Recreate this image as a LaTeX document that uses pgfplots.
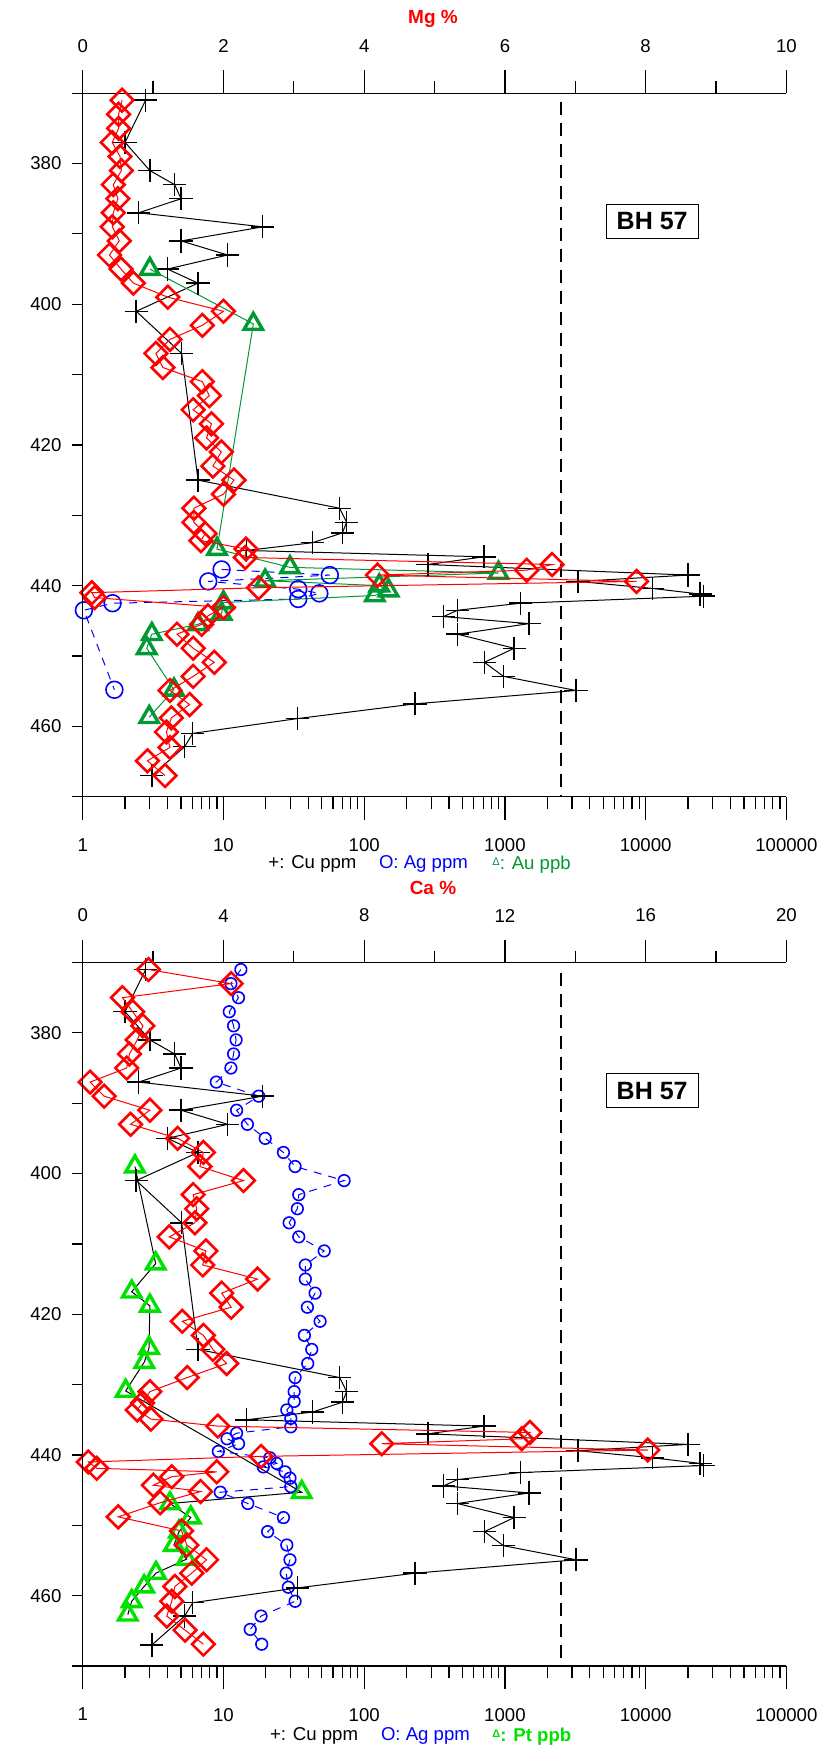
\documentclass[border=0pt]{standalone}
\usepackage{fontspec}
\setmainfont{Liberation Sans}
\usepackage{pgfplots}
\usepackage{pgfplotstable}
\pgfplotsset{compat=1.18}
\pgfplotsset{/pgf/number format/assume math mode=true}
\definecolor{auG}{RGB}{0,153,51}
\definecolor{ptG}{RGB}{0,225,0}

\pgfplotstableread{
v d
2.8 371
2.0 377
3.0 381
4.5 383
5.0 385
2.5 387
19 389
5.0 391
10.7 393
4.0 395
6.6 397
2.4 401
5.05 407
6.6 425
67 429
75 431
70 432.5
43 433.9
14.6 435
711 435.9
283 437
20000 438.5
3300 439.4
11200 440.4
24400 441.2
25800 441.5
1290 442.5
460 443.5
366 444.4
1487 445.4
460 446.9
1163 448.9
715 450.9
977 452.9
3200 454.9
230 456.8
33.5 458.9
6.05 461.0
5.3 462.9
3.1 467.0
}\cu

\pgfplotstableread{
v d
9.7 437.7
57 438.5
7.8 439.4
34 440.5
48 441.1
34 441.9
1.63 442.5
1.02 443.5
1.68 454.8
}\agtop

\pgfplotstableread{
v d
3.0 395
16.3 402.8
9.0 434.8
29.7 437.4
900 438.2
19.8 439.3
128 440.0
149 440.7
119 441.4
10 442.4
9.7 444.0
6.6 445.5
3.1 446.9
2.85 448.9
4.45 454.8
2.97 458.7
}\au

\pgfplotstableread{
v d
0.56 371
0.51 373
0.51 375
0.42 377
0.53 379
0.55 381
0.435 383
0.50 385
0.435 387
0.42 389
0.52 391
0.38 393
0.545 395
0.72 397
1.21 399
2.0 401
1.70 403
1.24 405
1.04 407
1.14 409
1.70 411
1.80 413
1.57 415
1.83 417
1.76 419
1.97 421
1.85 423
2.15 425
2.0 427
1.58 429
1.58 431
1.74 432.6
1.68 433.6
2.32 434.8
2.31 436.0
6.67 437.0
6.31 437.8
4.19 438.5
7.87 439.4
2.50 440.3
0.13 441.0
0.17 441.7
2.0 443.1
1.78 444.3
1.69 445.5
1.34 446.9
1.57 448.9
1.87 450.9
1.57 452.9
1.24 454.9
1.52 456.9
1.26 458.8
1.19 460.8
1.24 463.0
0.92 464.9
1.17 467.0
}\mg

\pgfplotstableread{
v d
13.3 371
11.3 373
12.8 375
11.0 377
11.8 379
12.3 381
11.8 383
11.3 385
8.9 387
17.8 389
12.4 391
14.8 393
19.8 395
26.7 397
32.3 399
72 401
34.3 403
33.5 405
29.3 407
34.3 409
52 411
38.2 413
38.2 415
44.8 417
39.5 419
48.6 421
37.6 423
42.4 425
39.7 427
32.3 429
31.8 431
31.8 432.4
28.2 433.6
30.1 434.8
30.1 436.0
12.4 436.9
10.6 437.7
12.8 438.4
9.2 439.5
21.4 440.4
23.9 441.2
19.2 441.7
27.4 442.4
29.7 443.3
30.1 444.5
9.5 445.3
14.9 446.9
26.7 448.9
20.6 450.9
28.2 452.8
29.7 454.9
27.9 456.8
28.9 458.8
32.3 460.8
18.5 462.9
15.5 464.8
18.7 466.9
}\agbot

\pgfplotstableread{
v d
2.35 399
3.3 412.8
2.23 416.8
3.0 418.8
2.96 424.8
2.74 426.8
2.02 430.9
36 445.3
4.17 446.9
5.86 448.9
4.83 450.9
4.45 452.8
5.48 454.8
3.32 456.8
2.73 458.7
2.23 460.8
2.09 462.7
}\pt

\pgfplotstableread{
v d
1.87 371
4.22 373
1.13 375
1.42 377
1.71 379
1.55 381
1.33 383
1.25 385
0.21 387
0.61 389
1.91 391
1.36 393
2.70 395
3.43 397
3.33 399
4.57 401
3.14 403
3.24 405
3.19 407
2.46 409
3.50 411
3.41 413
4.97 415
3.95 417
4.22 419
2.83 421
3.43 423
3.70 425
4.09 427
2.97 429
1.91 431
1.70 432.6
1.55 433.6
1.94 434.9
3.84 435.9
12.71 436.8
12.48 437.7
8.5 438.4
16.06 439.3
5.07 440.2
0.16 441.0
0.40 441.9
3.81 442.4
2.53 443.1
2.01 444.3
3.35 445.2
2.20 446.8
1.01 448.8
2.81 450.8
2.96 452.8
3.52 454.9
3.10 456.8
2.62 458.7
2.53 460.8
2.39 462.9
2.91 464.9
3.43 466.9
}\ca

\pgfplotsset{
  panel/.style={scale only axis, width=351.85pt, height=351.75pt,
    ymin=370, ymax=470, y dir=reverse, anchor=south west, clip=false,
    axis line style={-,line width=0.6pt}, tick style={black,line width=0.6pt},
    tick label style={font=\fontsize{9.3}{10}\selectfont}},
  logax/.style={panel,
    axis x line*=bottom, axis y line=none, ytick=\empty,
    xtick={1,10,100,1000,10000,100000},
    xticklabels={1,10,100,1000,10000,100000},
    minor xtick={2,3,4,5,6,7,8,9,20,30,40,50,60,70,80,90,200,300,400,500,600,700,800,900,2000,3000,4000,5000,6000,7000,8000,9000,20000,30000,40000,50000,60000,70000,80000,90000},
    major tick length=11.5pt, minor tick length=6pt, tick align=outside,
    xticklabel shift=6pt},
  topax/.style={panel, axis x line*=top, axis y line=none, ytick=\empty,
    major tick length=11.5pt, minor tick length=6pt, tick align=outside,
    xticklabel shift=5.2pt},
  yax/.style={panel, xmin=0, xmax=1, axis x line=none, axis y line*=left, xtick=\empty,
    ytick={380,400,420,440,460}, minor ytick={370,390,410,430,450,470},
    major tick length=5.5pt, minor tick length=5.5pt, tick align=outside,
    yticklabel shift=1.6pt},
  cuplot/.style={black, line width=0.5pt, mark=+, mark size=5.8pt, mark options={line width=0.75pt}},
  diam/.style={red, line width=0.5pt, mark=square, mark size=4.0pt, mark options={rotate=45, line width=1.3pt}},
  agplot/.style={blue, line width=0.5pt, dash pattern=on 4pt off 3.5pt, mark=o, mark options={solid, line width=0.8pt}},
  dashv/.style={black, line width=1pt, dash pattern=on 6.5pt off 4pt},
}
\tikzset{bh/.style={draw=black, line width=0.5pt, fill=white, font=\bfseries\fontsize{12.5}{14}\selectfont, minimum width=46pt, minimum height=17pt, inner sep=0pt}}

\begin{document}
\begin{tikzpicture}
\path[use as bounding box] (0,0) rectangle (410.5pt,874.5pt);
% ---------- top panel ----------
\begin{axis}[xmode=log, xmin=1, xmax=100000, logax, at={(41.35pt,476.15pt)}]
  \addplot[dashv] coordinates {(2500,371.2) (2500,470)};
  \addplot[cuplot] table[x=v,y=d] {\cu};
  \addplot[agplot, mark size=4.2pt] table[x=v,y=d] {\agtop};
  \addplot[auG, line width=0.5pt, mark=triangle, mark size=5.3pt, mark options={line width=1.7pt}] table[x=v,y=d] {\au};
  \node[bh] at (axis cs:11120,388.2) {BH 57};
\end{axis}
\begin{axis}[topax, at={(41.35pt,476.15pt)}, xmin=0, xmax=10, xtick={0,2,4,6,8,10}, minor xtick={1,3,5,7,9}]
  \addplot[diam] table[x=v,y=d] {\mg};
\end{axis}
\begin{axis}[yax, at={(41.35pt,476.15pt)}]
\end{axis}
% ---------- bottom panel ----------
\begin{axis}[xmode=log, xmin=1, xmax=100000, logax, at={(41.35pt,41.5pt)}]
  \addplot[dashv] coordinates {(2500,371.5) (2500,470)};
  \addplot[black, line width=0.5pt, mark=triangle, mark size=5.3pt, mark options={ptG, line width=1.7pt}] table[x=v,y=d] {\pt};
  \addplot[agplot, mark size=2.9pt] table[x=v,y=d] {\agbot};
  \addplot[cuplot] table[x=v,y=d] {\cu};
  \node[bh] at (axis cs:11120,388.2) {BH 57};
\end{axis}
\begin{axis}[topax, at={(41.35pt,41.5pt)}, xmin=0, xmax=20, xtick={0,4,8,12,16,20}, minor xtick={2,6,10,14,18}]
  \addplot[diam] table[x=v,y=d] {\ca};
\end{axis}
\begin{axis}[yax, at={(41.35pt,41.5pt)}]
\end{axis}
% ---------- texts ----------
\node[text=red, font=\bfseries\fontsize{9.5}{11}\selectfont] at (216.5pt,865pt) {Mg \%};
\node[text=red, font=\bfseries\fontsize{9.5}{11}\selectfont] at (216.5pt,430.4pt) {Ca \%};
\begin{scope}[every node/.style={font=\fontsize{9.3}{10}\selectfont, anchor=west, inner sep=0pt}]
  \node at (134pt,442.3pt) {+: Cu ppm};
  \node[text=blue] at (189.3pt,442.3pt) {O: Ag ppm};
  \node[text=auG] at (246pt,442.3pt) {\raisebox{2pt}{\fontsize{5.5}{6}\selectfont Δ}: Au ppb};
  \node at (134.8pt,6.4pt) {+: Cu ppm};
  \node[text=blue] at (190.3pt,6.4pt) {O: Ag ppm};
  \node[text=ptG, font=\bfseries\fontsize{9.3}{10}\selectfont] at (246pt,6.4pt) {\raisebox{2pt}{\fontsize{5.5}{6}\selectfont Δ}: Pt ppb};
\end{scope}
\end{tikzpicture}
\end{document}
